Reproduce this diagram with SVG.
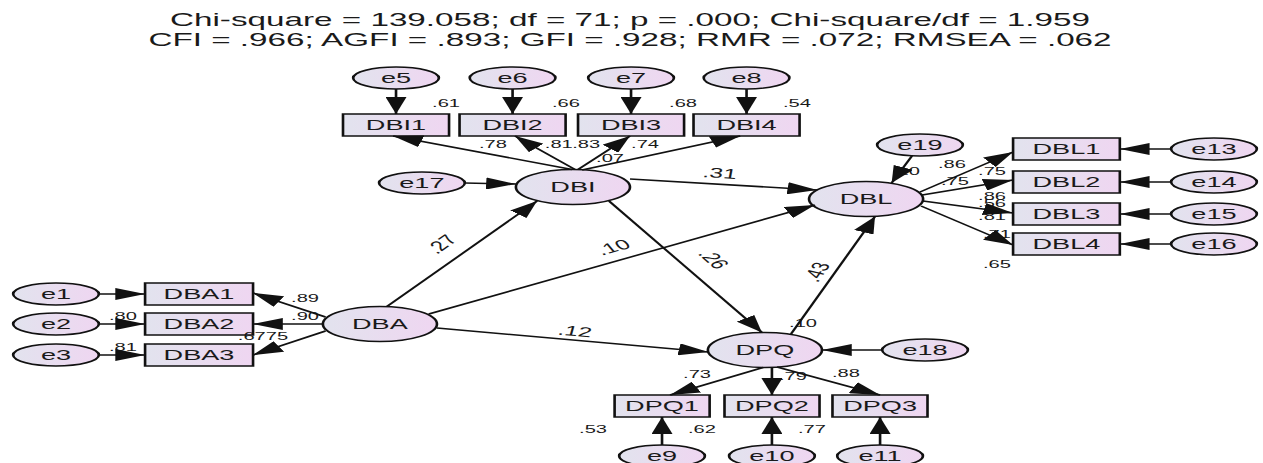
<svg xmlns="http://www.w3.org/2000/svg" width="1263" height="463" viewBox="0 0 1263 463">
<defs>
<linearGradient id="g" x1="0" y1="0" x2="1" y2="0">
<stop offset="0" stop-color="#e2e3ee"/>
<stop offset="1" stop-color="#efd6f1"/>
</linearGradient>
<marker id="a" markerUnits="userSpaceOnUse" markerWidth="18" markerHeight="12" refX="17" refY="6" orient="auto" viewBox="0 0 18 12">
<path d="M0,0 L17,6 L0,12 z" fill="#111"/>
</marker>
<style>
text{font-family:"Liberation Sans",Arial,sans-serif;fill:#1a1a1a}
.n ellipse,.n rect{fill:url(#g);stroke:#111;stroke-width:1.5}
.nt{font-size:15.5px;text-anchor:middle}
.l{font-size:11.5px;text-anchor:middle}
.p{font-size:14px;text-anchor:middle}
.t{font-size:19px;text-anchor:middle}
#connectors path{stroke:#111;stroke-width:1.5;fill:none;marker-end:url(#a)}
</style>
</defs>
<rect width="1263" height="463" fill="#fff"/>
<g transform="scale(1.75 1)">
<g id="title">
<text class="t" x="360" y="26">Chi-square = 139.058; df = 71; p = .000; Chi-square/df = 1.959</text>
<text class="t" x="360" y="46">CFI = .966; AGFI = .893; GFI = .928; RMR = .072; RMSEA = .062</text>
</g>
<g id="e5" class="n"><ellipse cx="226.3" cy="78" rx="24.5" ry="11"/><text class="nt" x="226.3" y="83.5">e5</text></g>
<g id="e6" class="n"><ellipse cx="292.9" cy="78" rx="24.5" ry="11"/><text class="nt" x="292.9" y="83.5">e6</text></g>
<g id="e7" class="n"><ellipse cx="360.6" cy="78" rx="24.5" ry="11"/><text class="nt" x="360.6" y="83.5">e7</text></g>
<g id="e8" class="n"><ellipse cx="426.6" cy="78" rx="24.5" ry="11"/><text class="nt" x="426.6" y="83.5">e8</text></g>
<g id="DBI1" class="n"><rect x="196" y="114" width="60.6" height="22"/><text class="nt" x="226.3" y="130.5">DBI1</text></g>
<g id="DBI2" class="n"><rect x="262.6" y="114" width="60.6" height="22"/><text class="nt" x="292.9" y="130.5">DBI2</text></g>
<g id="DBI3" class="n"><rect x="330.3" y="114" width="60.6" height="22"/><text class="nt" x="360.6" y="130.5">DBI3</text></g>
<g id="DBI4" class="n"><rect x="396.3" y="114" width="60.6" height="22"/><text class="nt" x="426.6" y="130.5">DBI4</text></g>
<g id="DBI" class="n"><ellipse cx="327.4" cy="187" rx="32.6" ry="17.5"/><text class="nt" x="327.4" y="192.5">DBI</text></g>
<g id="e17" class="n"><ellipse cx="241.1" cy="183" rx="24.5" ry="11"/><text class="nt" x="241.1" y="188.5">e17</text></g>
<g id="DBL" class="n"><ellipse cx="494.9" cy="199" rx="32.6" ry="17.5"/><text class="nt" x="494.9" y="204.5">DBL</text></g>
<g id="e19" class="n"><ellipse cx="525.7" cy="145" rx="24.5" ry="11"/><text class="nt" x="525.7" y="150.5">e19</text></g>
<g id="DBL1" class="n"><rect x="578.9" y="138" width="61" height="22"/><text class="nt" x="609.4" y="154.5">DBL1</text></g>
<g id="DBL2" class="n"><rect x="578.9" y="171" width="61" height="22"/><text class="nt" x="609.4" y="187.5">DBL2</text></g>
<g id="DBL3" class="n"><rect x="578.9" y="203" width="61" height="22"/><text class="nt" x="609.4" y="219.5">DBL3</text></g>
<g id="DBL4" class="n"><rect x="578.9" y="233" width="61" height="22"/><text class="nt" x="609.4" y="249.5">DBL4</text></g>
<g id="e13" class="n"><ellipse cx="693.7" cy="149" rx="24.5" ry="11"/><text class="nt" x="693.7" y="154.5">e13</text></g>
<g id="e14" class="n"><ellipse cx="693.7" cy="182" rx="24.5" ry="11"/><text class="nt" x="693.7" y="187.5">e14</text></g>
<g id="e15" class="n"><ellipse cx="693.7" cy="214" rx="24.5" ry="11"/><text class="nt" x="693.7" y="219.5">e15</text></g>
<g id="e16" class="n"><ellipse cx="693.7" cy="244" rx="24.5" ry="11"/><text class="nt" x="693.7" y="249.5">e16</text></g>
<g id="DBA" class="n"><ellipse cx="217.1" cy="324" rx="32.6" ry="17.5"/><text class="nt" x="217.1" y="329.5">DBA</text></g>
<g id="DBA1" class="n"><rect x="82.9" y="283" width="61.7" height="22"/><text class="nt" x="113.7" y="299.5">DBA1</text></g>
<g id="DBA2" class="n"><rect x="82.9" y="313" width="61.7" height="22"/><text class="nt" x="113.7" y="329.5">DBA2</text></g>
<g id="DBA3" class="n"><rect x="82.9" y="344" width="61.7" height="22"/><text class="nt" x="113.7" y="360.5">DBA3</text></g>
<g id="e1" class="n"><ellipse cx="32" cy="294" rx="24.5" ry="11"/><text class="nt" x="32" y="299.5">e1</text></g>
<g id="e2" class="n"><ellipse cx="32" cy="324" rx="24.5" ry="11"/><text class="nt" x="32" y="329.5">e2</text></g>
<g id="e3" class="n"><ellipse cx="32" cy="355" rx="24.5" ry="11"/><text class="nt" x="32" y="360.5">e3</text></g>
<g id="DPQ" class="n"><ellipse cx="437.1" cy="350" rx="32.6" ry="17.5"/><text class="nt" x="437.1" y="355.5">DPQ</text></g>
<g id="e18" class="n"><ellipse cx="528.6" cy="350" rx="24.5" ry="11"/><text class="nt" x="528.6" y="355.5">e18</text></g>
<g id="DPQ1" class="n"><rect x="351.2" y="395" width="54.3" height="22"/><text class="nt" x="378.3" y="411.5">DPQ1</text></g>
<g id="DPQ2" class="n"><rect x="414" y="395" width="54.3" height="22"/><text class="nt" x="441.1" y="411.5">DPQ2</text></g>
<g id="DPQ3" class="n"><rect x="475.7" y="395" width="54.3" height="22"/><text class="nt" x="502.9" y="411.5">DPQ3</text></g>
<g id="e9" class="n"><ellipse cx="378.3" cy="456" rx="24.5" ry="11"/><text class="nt" x="378.3" y="461.5">e9</text></g>
<g id="e10" class="n"><ellipse cx="441.1" cy="456" rx="24.5" ry="11"/><text class="nt" x="441.1" y="461.5">e10</text></g>
<g id="e11" class="n"><ellipse cx="502.9" cy="456" rx="24.5" ry="11"/><text class="nt" x="502.9" y="461.5">e11</text></g>
<g id="labels">
<text class="l" x="254.9" y="107">.61</text>
<text class="l" x="323.4" y="107">.66</text>
<text class="l" x="390.3" y="107">.68</text>
<text class="l" x="455.4" y="107">.54</text>
<text class="l" x="281.7" y="148">.78</text>
<text class="l" x="319.3" y="148">.81</text>
<text class="l" x="335" y="148">.83</text>
<text class="l" x="368.6" y="148">.74</text>
<text class="l" x="348.6" y="162">.07</text>
<text class="l" x="517.7" y="175">.10</text>
<text class="l" x="544" y="168">.86</text>
<text class="l" x="566.9" y="175">.75</text>
<text class="l" x="545.7" y="185">.75</text>
<text class="l" x="566.9" y="200">.86</text>
<text class="l" x="566.9" y="207">.56</text>
<text class="l" x="566.9" y="220">.81</text>
<text class="l" x="569.7" y="238">.71</text>
<text class="l" x="569.7" y="268">.65</text>
<text class="l" x="174.3" y="302">.89</text>
<text class="l" x="174.3" y="320">.90</text>
<text class="l" x="150.3" y="340">.6775</text>
<text class="l" x="70.3" y="320">.80</text>
<text class="l" x="70.3" y="351">.81</text>
<text class="l" x="458.9" y="327">.10</text>
<text class="l" x="398.3" y="378">.73</text>
<text class="l" x="453.1" y="380">.79</text>
<text class="l" x="483.4" y="377">.88</text>
<text class="l" x="338.9" y="433">.53</text>
<text class="l" x="401.1" y="433">.62</text>
<text class="l" x="464" y="433">.77</text>
<text class="p" transform="translate(411.4 173) rotate(6)" y="5">.31</text>
<text class="p" transform="translate(252 244) rotate(-50.8)" y="5">.27</text>
<text class="p" transform="translate(350.3 247) rotate(-26.3)" y="5">.10</text>
<text class="p" transform="translate(408 259) rotate(56.3)" y="5">.26</text>
<text class="p" transform="translate(466.3 272) rotate(-67.8)" y="5">.43</text>
<text class="p" transform="translate(328.6 331) rotate(8.9)" y="5">.12</text>
</g>
<g id="connectors">
<path d="M226.3,89 V114"/>
<path d="M292.9,89 V114"/>
<path d="M360.6,89 V114"/>
<path d="M426.6,89 V114"/>
<path d="M326.9,169.5 L224.6,136"/>
<path d="M328.6,169.5 L294.3,136"/>
<path d="M330.3,169.5 L360,136"/>
<path d="M332.6,170 L423,136"/>
<path d="M265.6,183 L294.8,184"/>
<path d="M360,179 L467,190"/>
<path d="M221.1,306.5 L306.9,201"/>
<path d="M245,314 L465.7,205"/>
<path d="M249.7,328 L404.8,352"/>
<path d="M348,201 L435.4,332.5"/>
<path d="M452,334 L500,216.5"/>
<path d="M504.1,350 L469.7,350"/>
<path d="M436,367.5 L382.9,395"/>
<path d="M441.1,367.5 L441.1,395"/>
<path d="M444,367 L502.9,395"/>
<path d="M378.3,445 L378.3,417"/>
<path d="M441.1,445 L441.1,417"/>
<path d="M502.9,445 L502.9,417"/>
<path d="M525.7,192 L578.9,152"/>
<path d="M526.9,195 L578.9,180"/>
<path d="M527.4,201 L578.9,213"/>
<path d="M526.3,206 L578.9,245"/>
<path d="M669.2,149 L639.9,149"/>
<path d="M669.2,182 L639.9,182"/>
<path d="M669.2,214 L639.9,214"/>
<path d="M669.2,244 L639.9,244"/>
<path d="M521.1,156 L509.5,183"/>
<path d="M56.5,294 L82.9,294"/>
<path d="M56.5,324 L82.9,324"/>
<path d="M56.5,355 L82.9,355"/>
<path d="M186,317 L144.6,293"/>
<path d="M184.5,324 L144.6,324"/>
<path d="M186,331 L144.6,355"/>
</g>
</g>
</svg>
